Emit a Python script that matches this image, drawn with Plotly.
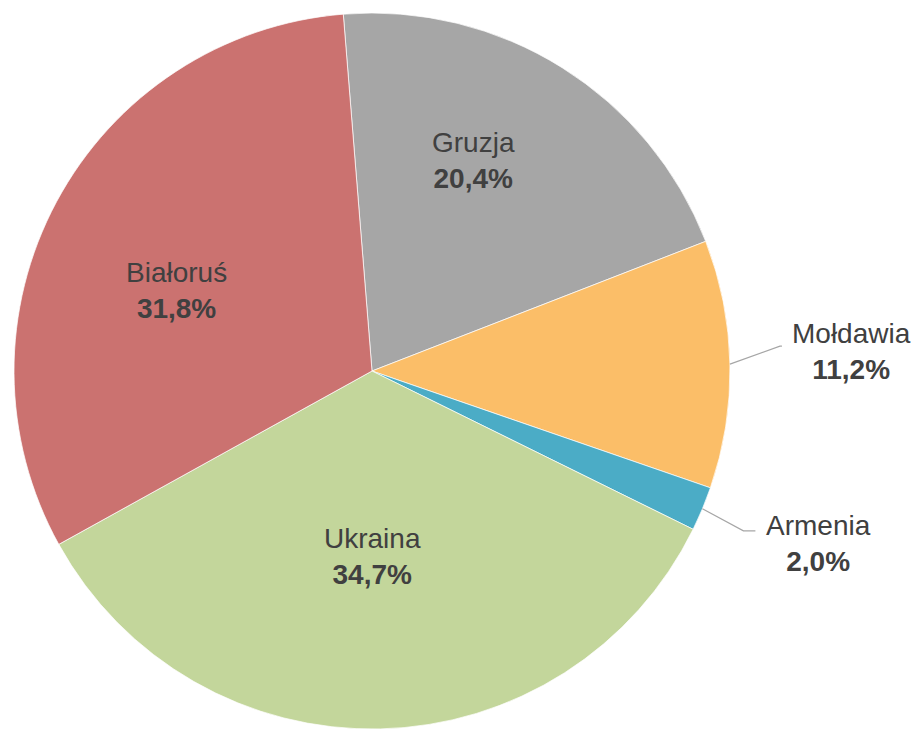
import math
import plotly.graph_objects as go

# data (clockwise from the top)
countries = ["Gruzja", "Mołdawia", "Armenia", "Ukraina", "Białoruś"]
shares = [20.4, 11.2, 2.0, 34.7, 31.8]
colors = ["#A6A6A6", "#FBBE68", "#4BACC6", "#C3D69B", "#CB7270"]

W, H = 919, 731
TOP, BOTTOM = 13, 2
START = -4.6          # angle of first slice edge, degrees clockwise from 12 o'clock
TXT = "#404040"
FONT = "Liberation Sans, Arial, sans-serif"

plot_h = H - TOP - BOTTOM
radius = plot_h / 2
cx = 372
cy = TOP + radius

# label placement: inside -> (radius fraction, angle nudge in deg)
inside_pos = {"Gruzja": (0.652, -6.2), "Ukraina": (0.518, 1.1), "Białoruś": (0.59, -5.8)}
# outside -> leader line (dx, dy, horizontal run) in px, then text offset (dx, dy)
leader = {"Mołdawia": (50, -18, 2, 70, 5), "Armenia": (41, 22, 12, 63, 13)}


def to_paper(px, py):
    return px / W, 1 - (py - TOP) / plot_h


def polar(angle_deg, r):
    a = math.radians(angle_deg)
    return cx + r * math.sin(a), cy - r * math.cos(a)


fig = go.Figure()
fig.add_trace(go.Pie(
    labels=countries,
    values=shares,
    sort=False,
    direction="clockwise",
    rotation=START,
    marker=dict(colors=colors, line=dict(color="rgba(255,255,255,0.7)", width=1)),
    textinfo="none",
    domain=dict(x=[0, 2 * cx / W], y=[0, 1]),
    showlegend=False,
    hoverinfo="label+percent",
))

total = sum(shares)
cum = 0.0
for name, v in zip(countries, shares):
    mid = START + (cum + v / 2) / total * 360
    cum += v
    pct = f"{v / total * 100:.1f}".replace(".", ",")
    label = f"{name}<br><b>{pct}%</b>"

    if name in inside_pos:
        frac, nudge = inside_pos[name]
        tx, ty = polar(mid + nudge, frac * radius)
    else:
        dx, dy, run, ox, oy = leader[name]
        ex, ey = polar(mid, radius)
        pts = [(ex, ey), (ex + dx, ey + dy), (ex + dx + run, ey + dy)]
        pp = [to_paper(x, y) for x, y in pts]
        path = "M " + " L ".join(f"{x},{y}" for x, y in pp)
        fig.add_shape(type="path", path=path, xref="paper", yref="paper",
                      line=dict(color="#A6A6A6", width=1.2))
        tx, ty = pts[-1][0] + ox, pts[-1][1] + oy

    px, py = to_paper(tx, ty)
    fig.add_annotation(x=px, y=py, xref="paper", yref="paper",
                       text=label, showarrow=False,
                       xanchor="center", yanchor="middle", align="center",
                       font=dict(family=FONT, size=28, color=TXT))

fig.update_layout(
    width=W, height=H,
    margin=dict(l=0, r=0, t=TOP, b=BOTTOM),
    paper_bgcolor="white",
    plot_bgcolor="white",
)

# the page body has a default 8px margin; drop it so the figure fills the window
fig.write_html("out.html", config={"displayModeBar": False},
               post_script="document.body.style.margin='0';")
